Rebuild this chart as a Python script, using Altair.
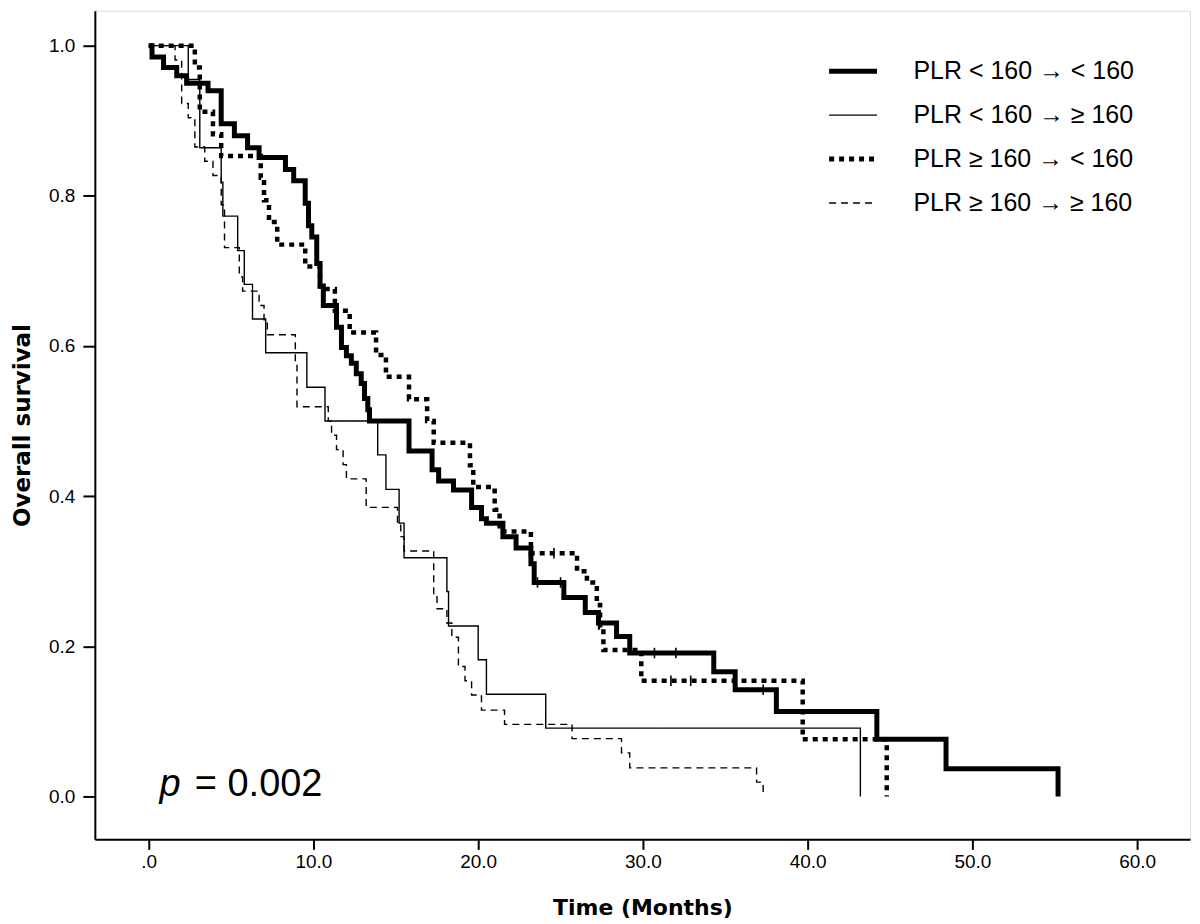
import altair as alt
import pandas as pd

groups = ["PLR < 160 → < 160", "PLR < 160 → ≥ 160", "PLR ≥ 160 → < 160", "PLR ≥ 160 → ≥ 160"]
line_widths = [5, 1.4, 4.5, 1.4]
line_dashes = [[1, 0], [1, 0], [5, 5], [7, 5]]

# Kaplan-Meier step vertices (time in months, survival after the step)
a_time = [0, 0.2, 0.9, 1.7, 2.3, 3.6, 4.4, 5.2, 6.0, 6.7, 8.3, 8.8, 9.5, 9.7, 9.9, 10.2, 10.4, 10.6,
          11.4, 11.7, 12.0, 12.3, 12.6, 12.9, 13.1, 13.3, 13.4, 15.8, 17.2, 17.6, 18.5, 19.6, 20.2, 20.5,
          21.5, 22.3, 23.2, 23.4, 25.2, 26.5, 27.3, 28.4, 29.2, 34.3, 35.6, 38.1, 44.2, 48.4, 55.2]
a_surv = [1.0, 0.985, 0.971, 0.960, 0.950, 0.940, 0.896, 0.880, 0.864, 0.851, 0.835, 0.820, 0.790, 0.760,
          0.745, 0.710, 0.680, 0.654, 0.625, 0.598, 0.587, 0.577, 0.563, 0.550, 0.530, 0.515, 0.500, 0.460,
          0.435, 0.420, 0.408, 0.385, 0.370, 0.364, 0.346, 0.331, 0.310, 0.285, 0.265, 0.245, 0.231, 0.213,
          0.191, 0.166, 0.142, 0.113, 0.076, 0.037, 0.0]

b_time = [0, 2.4, 3.1, 4.4, 4.5, 5.4, 5.8, 6.3, 7.1, 9.6, 10.7, 13.9, 14.4, 15.2, 15.5, 18.1, 18.2,
          20.0, 20.5, 24.1, 43.2]
b_surv = [1.0, 0.955, 0.864, 0.818, 0.773, 0.727, 0.682, 0.636, 0.591, 0.545, 0.500, 0.455, 0.409,
          0.364, 0.318, 0.273, 0.227, 0.182, 0.136, 0.091, 0.0]

c_time = [0, 2.8, 3.1, 3.9, 4.4, 6.8, 7.0, 7.3, 7.8, 9.5, 10.4, 11.3, 12.2, 13.8, 14.4, 15.8, 16.9,
          17.3, 19.5, 19.7, 21.0, 21.3, 23.2, 26.0, 26.6, 27.2, 27.4, 27.6, 29.9, 39.7, 44.8]
c_surv = [1.0, 0.971, 0.912, 0.882, 0.853, 0.824, 0.794, 0.765, 0.735, 0.706, 0.676, 0.647, 0.618,
          0.588, 0.559, 0.529, 0.500, 0.471, 0.441, 0.412, 0.382, 0.353, 0.324, 0.300, 0.285, 0.255,
          0.225, 0.195, 0.154, 0.076, 0.0]

d_time = [0, 1.6, 2.0, 2.4, 2.8, 3.4, 3.9, 4.4, 4.6, 5.5, 5.7, 6.7, 7.0, 7.2, 8.9, 9.0, 10.9, 11.1,
          11.4, 11.8, 12.0, 13.2, 15.1, 15.3, 15.5, 17.3, 17.5, 18.1, 18.4, 18.8, 19.2, 19.6, 20.2,
          21.6, 25.7, 28.7, 29.2, 36.9, 37.3]
d_surv = [1.0, 0.981, 0.923, 0.904, 0.865, 0.846, 0.827, 0.788, 0.731, 0.692, 0.673, 0.654, 0.635,
          0.615, 0.577, 0.519, 0.500, 0.481, 0.462, 0.442, 0.423, 0.385, 0.365, 0.346, 0.327, 0.269,
          0.250, 0.231, 0.212, 0.173, 0.154, 0.135, 0.115, 0.096, 0.077, 0.058, 0.038, 0.019, 0.0]

# Censoring marks
cens_group = [groups[0], groups[0], groups[0], groups[0], groups[0], groups[2], groups[2], groups[2]]
cens_time = [23.6, 25.0, 30.7, 32.0, 37.3, 24.6, 31.7, 32.9]
cens_surv = [0.285, 0.285, 0.191, 0.191, 0.142, 0.324, 0.154, 0.154]

x_ticks = [0, 10, 20, 30, 40, 50, 60]
y_ticks = [0.0, 0.2, 0.4, 0.6, 0.8, 1.0]

p_parts = ["p", "= 0.002"]
p_x = [0.65, 2.8]
p_y = [0.0, 0.0]

rows = []
for g, w, ts, ss in zip(groups, line_widths, [a_time, b_time, c_time, d_time],
                        [a_surv, b_surv, c_surv, d_surv]):
    for t, s in zip(ts, ss):
        rows.append({"group": g, "lw": w, "time": t, "surv": s})
df = pd.DataFrame(rows)
cens = pd.DataFrame({"group": cens_group, "time": cens_time, "surv": cens_surv})
ann = pd.DataFrame({"label": p_parts, "time": p_x, "surv": p_y})

xscale = alt.Scale(domain=[-3.27, 63.21], nice=False, zero=False)
yscale = alt.Scale(domain=[-0.0572, 1.0465], nice=False, zero=False)

tick_font = "Liberation Sans Narrow, Arial Narrow, Liberation Sans"
title_font = "DejaVu Sans"

x_axis = alt.Axis(values=x_ticks, labelExpr="datum.value == 0 ? '.0' : format(datum.value, '.1f')",
                  title="Time (Months)", grid=False, tickSize=10, tickWidth=2, tickColor="black",
                  domainColor="black", domainWidth=2, labelFont=tick_font, labelFontSize=19,
                  labelColor="black", labelPadding=3, titleFont=title_font, titleFontSize=22,
                  titleFontWeight="bold", titleColor="black", titleY=58, titleBaseline="top")
y_axis = alt.Axis(values=y_ticks, format=".1f", title="Overall survival", grid=False, tickSize=12,
                  tickWidth=2, tickColor="black", domainColor="black", domainWidth=2,
                  labelFont=tick_font, labelFontSize=19, labelColor="black", labelPadding=8,
                  titleFont=title_font, titleFontSize=23, titleFontWeight="bold", titleColor="black",
                  titleAngle=270, titleX=-72, titleY=415, titleAlign="center", titleBaseline="middle")

thick_names = "['" + groups[0] + "','" + groups[2] + "']"
legend = alt.Legend(title=None, orient="none", legendX=747, legendY=48, symbolType="stroke",
                    symbolSize=2304, symbolStrokeColor="black",
                    symbolStrokeWidth=alt.ExprRef("indexof(" + thick_names + ", datum.value) >= 0 ? 5 : 1.4"),
                    labelFont="Liberation Sans", labelFontSize=25, labelColor="black",
                    labelOffset=48, rowPadding=18, labelLimit=400)

lines = alt.Chart(df).mark_line(interpolate="step-after", color="black", strokeCap="butt").encode(
    x=alt.X("time:Q", scale=xscale, axis=x_axis),
    y=alt.Y("surv:Q", scale=yscale, axis=y_axis),
    detail="group:N",
    strokeDash=alt.StrokeDash("group:N", scale=alt.Scale(domain=groups, range=line_dashes),
                              legend=legend),
    strokeWidth=alt.StrokeWidth("lw:Q", scale=None, legend=None),
)

ticks = alt.Chart(cens).mark_point(shape="M0,-1L0,1", filled=False, color="black", size=110,
                                   strokeWidth=1.6, opacity=1).encode(
    x=alt.X("time:Q", scale=xscale),
    y=alt.Y("surv:Q", scale=yscale),
)

p_italic = alt.Chart(ann[ann["label"] == "p"]).mark_text(
    align="left", baseline="alphabetic", font="Liberation Sans", fontSize=38, fontStyle="italic",
    color="black").encode(x=alt.X("time:Q", scale=xscale), y=alt.Y("surv:Q", scale=yscale),
                          text="label:N")
p_rest = alt.Chart(ann[ann["label"] != "p"]).mark_text(
    align="left", baseline="alphabetic", font="Liberation Sans", fontSize=38, color="black").encode(
    x=alt.X("time:Q", scale=xscale), y=alt.Y("surv:Q", scale=yscale), text="label:N")

chart = alt.layer(lines, ticks, p_italic, p_rest).properties(
    width=1097, height=830,
    autosize=alt.AutoSizeParams(type="none"),
    padding={"left": 87, "top": 2, "right": 2, "bottom": 80},
).configure_view(stroke="#555555", strokeWidth=3).configure(background="white")

chart.save("out.html", embed_options={"renderer": "svg", "actions": False})
